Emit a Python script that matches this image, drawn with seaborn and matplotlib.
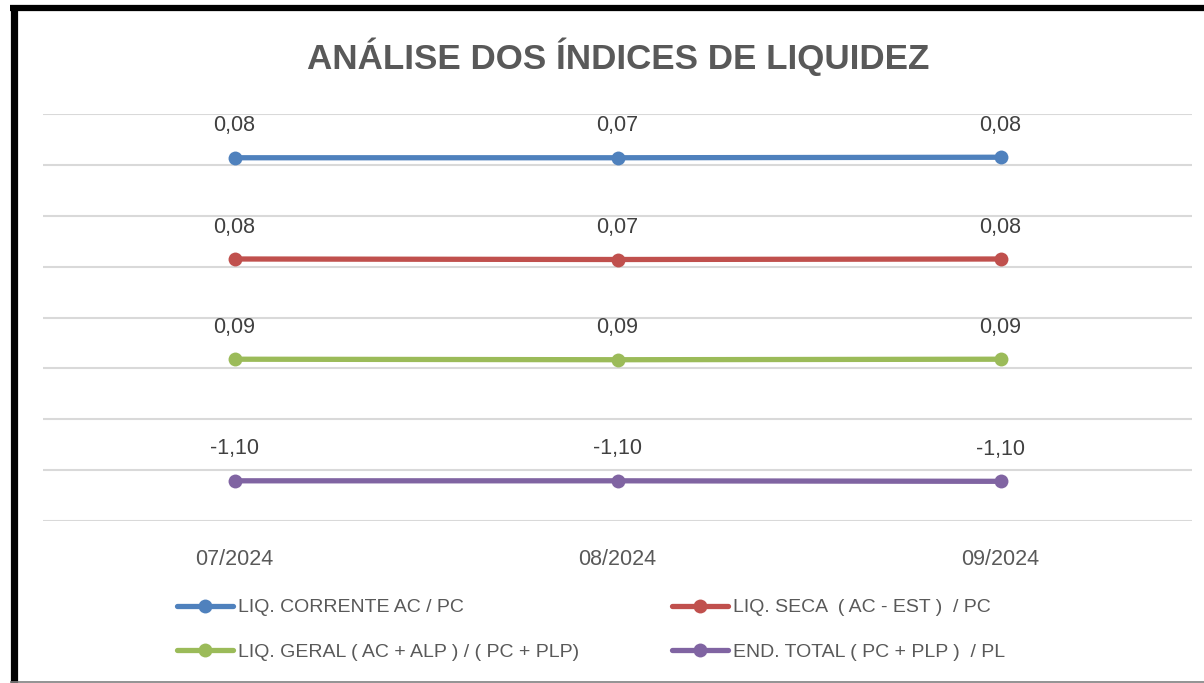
import pandas as pd
import numpy as np
import matplotlib.pyplot as plt
import seaborn as sns
from matplotlib.lines import Line2D

# Dados do gráfico (posições, rótulos como no Excel)
meses = ['07/2024', '08/2024', '09/2024']
series = ['LIQ. CORRENTE AC / PC', 'LIQ. SECA  ( AC - EST )  / PC',
          'LIQ. GERAL ( AC + ALP ) / ( PC + PLP)', 'END. TOTAL ( PC + PLP )  / PL']
liq_corrente = [7.14, 7.14, 7.15]
liq_seca = [5.15, 5.14, 5.15]
liq_geral = [3.18, 3.17, 3.18]
end_total = [0.79, 0.79, 0.78]
rotulos_corrente = ['0,08', '0,07', '0,08']
rotulos_seca = ['0,08', '0,07', '0,08']
rotulos_geral = ['0,09', '0,09', '0,09']
rotulos_end = ['-1,10', '-1,10', '-1,10']
cores = ['#4F81BD', '#C0504D', '#9BBB59', '#8064A2']

valores = [liq_corrente, liq_seca, liq_geral, end_total]
rotulos = [rotulos_corrente, rotulos_seca, rotulos_geral, rotulos_end]

df = pd.DataFrame({
    'mes': meses * 4,
    'serie': np.repeat(series, 3),
    'valor': np.concatenate(valores),
})

sns.set_style('white')
plt.rcParams['font.family'] = ['Liberation Sans', 'DejaVu Sans']

fig = plt.figure(figsize=(12.04, 6.83), dpi=100)
ax = fig.add_axes([43 / 1204, 1 - 521 / 683, (1192 - 43) / 1204, (521 - 114) / 683])

handles = []
for i, nome in enumerate(series):
    sub = df[df['serie'] == nome]
    sns.lineplot(data=sub, x='mes', y='valor', ax=ax, color=cores[i], linewidth=3.8,
                 marker='o', markersize=10, markeredgewidth=0, sort=False)
    for j, (m, v) in enumerate(zip(sub['mes'], sub['valor'])):
        ax.annotate(rotulos[i][j], (j, v), xytext=(0, 23), textcoords='offset points',
                    ha='center', va='center', fontsize=15.5, color='#404040')
    handles.append(Line2D([], [], color=cores[i], linewidth=3.8, marker='o',
                          markersize=10, markeredgewidth=0, label=nome))

ax.set_xlim(-0.5, 2.5)
ax.set_ylim(0, 8)
ax.set_yticks(range(0, 9))
ax.yaxis.grid(True, color='#D9D9D9', linewidth=1.5)
ax.xaxis.grid(False)
ax.set_yticklabels([])
ax.set_xlabel('')
ax.set_ylabel('')
ax.tick_params(axis='x', length=0, labelsize=15.5, labelcolor='#595959', pad=20)
ax.tick_params(axis='y', length=0)
for s in ax.spines.values():
    s.set_visible(False)
ax.set_axisbelow(True)

fig.text(618 / 1204, 1 - 57 / 683, 'ANÁLISE DOS ÍNDICES DE LIQUIDEZ', ha='center', va='center',
         fontsize=25.2, fontweight='bold', color='#595959')

ordem = [handles[0], handles[2], handles[1], handles[3]]
fig.legend(handles=ordem, loc='center', bbox_to_anchor=(591 / 1204, 1 - 630 / 683), ncol=2,
           frameon=False, fontsize=14, labelcolor='#595959', handlelength=2.9,
           handletextpad=0.25, columnspacing=4.75, labelspacing=1.4)

# moldura recortada da captura
fig.add_artist(Line2D([13.5 / 1204, 13.5 / 1204], [0, 1 - 5 / 683], color='black', linewidth=5.2,
                      solid_capstyle='butt', transform=fig.transFigure))
fig.add_artist(Line2D([10 / 1204, 1], [1 - 8 / 683, 1 - 8 / 683], color='black', linewidth=4.5,
                      solid_capstyle='butt', transform=fig.transFigure))
fig.add_artist(Line2D([10 / 1204, 1], [1.5 / 683, 1.5 / 683], color='#808080', linewidth=1.2,
                      solid_capstyle='butt', transform=fig.transFigure))

fig.savefig('out.png', dpi=100)
